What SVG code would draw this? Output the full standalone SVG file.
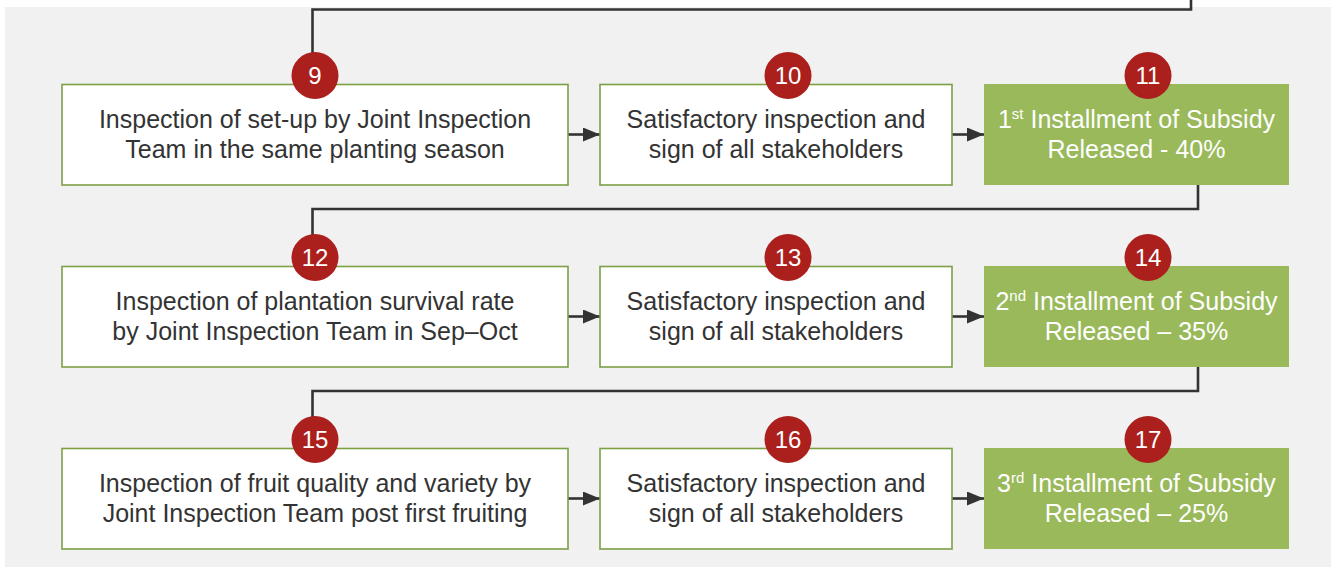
<svg xmlns="http://www.w3.org/2000/svg" width="1331" height="567" viewBox="0 0 1331 567">
  <style>
    .step { fill: #ffffff; stroke: #7d9f45; stroke-width: 1.6; }
    .pay { fill: #99b95b; }
    .label { font-family: "Liberation Sans", Arial, Helvetica, sans-serif; font-size: 25px; fill: #333333; text-anchor: middle; }
    .label.light { fill: #ffffff; }
    .sup { font-size: 15px; }
    .badge { fill: #ab1f1d; }
    .num { font-family: "Liberation Sans", Arial, Helvetica, sans-serif; font-size: 24px; fill: #ffffff; text-anchor: middle; }
    .wire { fill: none; stroke: #333333; stroke-width: 2.6; stroke-linejoin: miter; }
  </style>
  <defs>
    <marker id="tip" markerWidth="17" markerHeight="14" refX="17" refY="7" orient="auto" markerUnits="userSpaceOnUse">
      <path d="M0,0 L17,7 L0,14 Z" fill="#333333"/>
    </marker>
  </defs>

  <rect width="1331" height="567" fill="#ffffff"/>
  <rect x="5" y="7" width="1326" height="560" fill="#f1f1f1"/>

  <g id="connectors">
    <path class="wire" d="M1191,0 V9.5 H312.5 V60"/>
    <path class="wire" d="M1198,185 V209 H312.5 V242"/>
    <path class="wire" d="M1198,367 V391 H312.5 V424"/>
    <path class="wire" d="M568,134.5 H600" marker-end="url(#tip)"/>
    <path class="wire" d="M952,134.5 H984" marker-end="url(#tip)"/>
    <path class="wire" d="M568,316.5 H600" marker-end="url(#tip)"/>
    <path class="wire" d="M952,316.5 H984" marker-end="url(#tip)"/>
    <path class="wire" d="M568,498.5 H600" marker-end="url(#tip)"/>
    <path class="wire" d="M952,498.5 H984" marker-end="url(#tip)"/>
  </g>

  <!-- Row 1 -->
  <g id="step9">
    <rect class="step" x="62" y="84.5" width="506" height="100.5"/>
    <text class="label" x="315" y="127.5">Inspection of set-up by Joint Inspection</text>
    <text class="label" x="315" y="157.5">Team in the same planting season</text>
    <circle class="badge" cx="315" cy="75.5" r="23.5"/>
    <text class="num" x="315" y="84">9</text>
  </g>
  <g id="step10">
    <rect class="step" x="600" y="84.5" width="352" height="100.5"/>
    <text class="label" x="776" y="127.5">Satisfactory inspection and</text>
    <text class="label" x="776" y="157.5">sign of all stakeholders</text>
    <circle class="badge" cx="788" cy="75.5" r="23.5"/>
    <text class="num" x="788" y="84">10</text>
  </g>
  <g id="step11">
    <rect class="pay" x="984" y="84" width="305" height="101"/>
    <text class="label light" x="1136.5" y="127.5">1<tspan class="sup" dy="-9">st</tspan><tspan dy="9"> Installment of Subsidy</tspan></text>
    <text class="label light" x="1136.5" y="157.5">Released - 40%</text>
    <circle class="badge" cx="1148" cy="75.5" r="23.5"/>
    <text class="num" x="1148" y="84">11</text>
  </g>

  <!-- Row 2 -->
  <g id="step12">
    <rect class="step" x="62" y="266.5" width="506" height="100.5"/>
    <text class="label" x="315" y="309.5">Inspection of plantation survival rate</text>
    <text class="label" x="315" y="339.5">by Joint Inspection Team in Sep–Oct</text>
    <circle class="badge" cx="315" cy="257.5" r="23.5"/>
    <text class="num" x="315" y="266">12</text>
  </g>
  <g id="step13">
    <rect class="step" x="600" y="266.5" width="352" height="100.5"/>
    <text class="label" x="776" y="309.5">Satisfactory inspection and</text>
    <text class="label" x="776" y="339.5">sign of all stakeholders</text>
    <circle class="badge" cx="788" cy="257.5" r="23.5"/>
    <text class="num" x="788" y="266">13</text>
  </g>
  <g id="step14">
    <rect class="pay" x="984" y="266" width="305" height="101"/>
    <text class="label light" x="1136.5" y="309.5">2<tspan class="sup" dy="-9">nd</tspan><tspan dy="9"> Installment of Subsidy</tspan></text>
    <text class="label light" x="1136.5" y="339.5">Released – 35%</text>
    <circle class="badge" cx="1148" cy="257.5" r="23.5"/>
    <text class="num" x="1148" y="266">14</text>
  </g>

  <!-- Row 3 -->
  <g id="step15">
    <rect class="step" x="62" y="448.5" width="506" height="100.5"/>
    <text class="label" x="315" y="491.5">Inspection of fruit quality and variety by</text>
    <text class="label" x="315" y="521.5">Joint Inspection Team post first fruiting</text>
    <circle class="badge" cx="315" cy="439.5" r="23.5"/>
    <text class="num" x="315" y="448">15</text>
  </g>
  <g id="step16">
    <rect class="step" x="600" y="448.5" width="352" height="100.5"/>
    <text class="label" x="776" y="491.5">Satisfactory inspection and</text>
    <text class="label" x="776" y="521.5">sign of all stakeholders</text>
    <circle class="badge" cx="788" cy="439.5" r="23.5"/>
    <text class="num" x="788" y="448">16</text>
  </g>
  <g id="step17">
    <rect class="pay" x="984" y="448" width="305" height="101"/>
    <text class="label light" x="1136.5" y="491.5">3<tspan class="sup" dy="-9">rd</tspan><tspan dy="9"> Installment of Subsidy</tspan></text>
    <text class="label light" x="1136.5" y="521.5">Released – 25%</text>
    <circle class="badge" cx="1148" cy="439.5" r="23.5"/>
    <text class="num" x="1148" y="448">17</text>
  </g>
</svg>
